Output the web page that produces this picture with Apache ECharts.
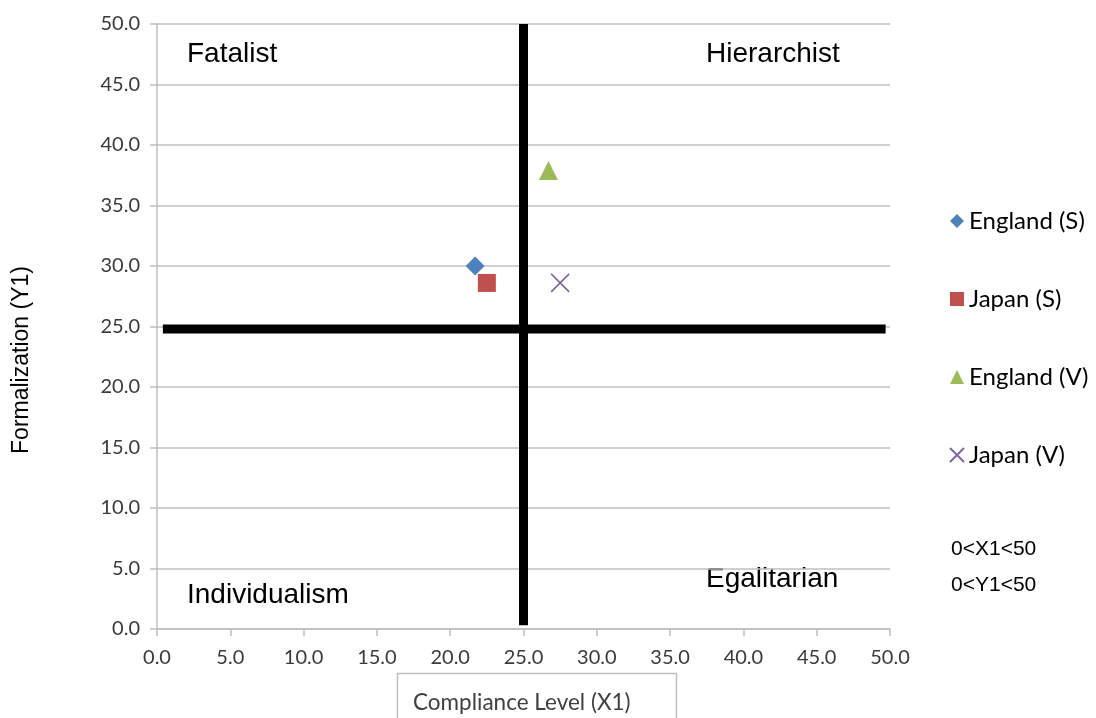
<!DOCTYPE html>
<html>
<head>
<meta charset="utf-8">
<script src="https://cdn.jsdelivr.net/npm/echarts@6/dist/echarts.min.js"></script>
<style>
  html, body { margin: 0; padding: 0; background: #ffffff; }
  #chart { width: 1096px; height: 718px; }
</style>
</head>
<body>
<div id="chart"></div>
<script>
// Cultural quadrant positions: Compliance Level (X1) vs Formalization (Y1)
const seriesNames = ['England (S)', 'Japan (S)', 'England (V)', 'Japan (V)'];
const englandS = [[21.7, 30.0]];
const japanS   = [[22.5, 28.6]];
const englandV = [[26.7, 37.9]];
const japanV   = [[27.5, 28.6]];

// Dividing lines between the four quadrants
const verticalDivider   = [[25.0, 0.3], [25.0, 50.0]];
const horizontalDivider = [[0.4, 24.8], [49.7, 24.8]];

// Axis ticks
const axisMin = 0, axisMax = 50, axisStep = 5;

const quadrantNames = ['Fatalist', 'Hierarchist', 'Individualism', 'Egalitarian'];
const rangeNotes = ['0<X1<50', '0<Y1<50'];
const xAxisTitle = 'Compliance Level (X1)';
const yAxisTitle = 'Formalization (Y1)';

const gridColor = '#bfbfbf';
const tickFont = 'Lato, "Open Sans", sans-serif';
const arial = '"Liberation Sans", Arial, sans-serif';

const chart = echarts.init(document.getElementById('chart'));

const xMark = 'path://M0,0L10,10M10,0L0,10';

const option = {
  backgroundColor: '#ffffff',
  animation: false,
  grid: { left: 157, right: 206, top: 24, bottom: 89, containLabel: false },
  xAxis: {
    type: 'value', min: axisMin, max: axisMax, interval: axisStep,
    axisLine: { show: true, lineStyle: { color: gridColor, width: 1.5 } },
    axisTick: { show: true, length: 7, lineStyle: { color: gridColor, width: 1.5 } },
    splitLine: { show: false },
    axisLabel: { margin: 19, color: '#3a3a3a', fontFamily: tickFont, fontSize: 20,
      formatter: v => v.toFixed(1) }
  },
  yAxis: {
    type: 'value', min: axisMin, max: axisMax, interval: axisStep,
    axisLine: { show: true, lineStyle: { color: gridColor, width: 1.5 } },
    axisTick: { show: true, length: 7, lineStyle: { color: gridColor, width: 1.5 } },
    splitLine: { show: true, lineStyle: { color: gridColor, width: 1.5 } },
    axisLabel: { margin: 17, color: '#3a3a3a', fontFamily: tickFont, fontSize: 20,
      formatter: v => v.toFixed(1) }
  },
  legend: {
    orient: 'vertical', left: 944, top: 203,
    itemWidth: 14, itemHeight: 14, itemGap: 52,
    data: seriesNames,
    textStyle: { fontFamily: tickFont, fontSize: 24, color: '#000000', lineHeight: 26 }
  },
  series: [
    { name: 'divider-v', type: 'line', data: verticalDivider, symbol: 'none', silent: true,
      lineStyle: { color: '#000000', width: 9 }, z: 1 },
    { name: 'divider-h', type: 'line', data: horizontalDivider, symbol: 'none', silent: true,
      lineStyle: { color: '#000000', width: 9 }, z: 1 },
    { name: seriesNames[0], type: 'scatter', data: englandS, symbol: 'diamond', symbolSize: 19,
      itemStyle: { color: '#4f81bd', opacity: 1 }, z: 3 },
    { name: seriesNames[1], type: 'scatter', data: japanS, symbol: 'rect', symbolSize: 18,
      itemStyle: { color: '#c0504d', opacity: 1 }, z: 3 },
    { name: seriesNames[2], type: 'scatter', data: englandV, symbol: 'triangle', symbolSize: 19,
      itemStyle: { color: '#9bbb59', opacity: 1 }, z: 3 },
    { name: seriesNames[3], type: 'scatter', data: japanV, symbol: xMark, symbolSize: 18,
      itemStyle: { color: 'rgba(0,0,0,0)', borderColor: '#8064a2', borderWidth: 1.6, opacity: 1 }, z: 3 }
  ],
  graphic: [
    { type: 'text', left: 187, top: 40, style: { text: quadrantNames[0], font: '28px ' + arial, fill: '#000' } },
    { type: 'text', left: 706, top: 40, style: { text: quadrantNames[1], font: '28px ' + arial, fill: '#000' } },
    { type: 'text', left: 187, top: 581, style: { text: quadrantNames[2], font: '28px ' + arial, fill: '#000' } },
    { type: 'text', left: 706, top: 565, style: { text: quadrantNames[3], font: '28px ' + arial, fill: '#000' } },
    { type: 'text', left: 951, top: 539, style: { text: rangeNotes[0], font: '21px ' + arial, fill: '#000' } },
    { type: 'text', left: 951, top: 575, style: { text: rangeNotes[1], font: '21px ' + arial, fill: '#000' } },
    { type: 'text', x: 22, y: 360, rotation: Math.PI / 2,
      style: { text: yAxisTitle, font: '23px ' + arial, fill: '#000', textAlign: 'center', textVerticalAlign: 'middle' } },
    { type: 'rect', shape: { x: 397.5, y: 673.5, width: 279, height: 80 },
      style: { fill: 'none', stroke: '#bfbfbf', lineWidth: 1.5 } },
    { type: 'text', x: 413, y: 703, style: { text: xAxisTitle, font: '22.5px ' + tickFont,
      fill: '#404040', textAlign: 'left', textVerticalAlign: 'middle' } }
  ]
};

chart.setOption(option);
</script>
</body>
</html>
